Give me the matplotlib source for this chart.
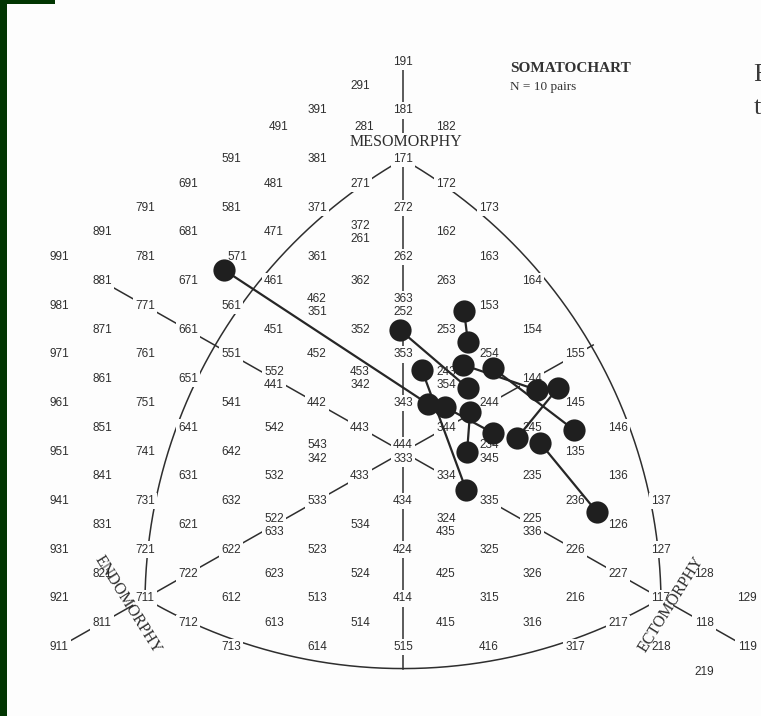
import numpy as np
import matplotlib.pyplot as plt
from matplotlib.patches import Rectangle

# =============================
# DATA
# =============================
# ratings printed on the grid (endo, meso, ecto); "a/b" = two ratings
# sharing one chart position, printed one above the other
grid_ratings = [
    "191", "291", "391", "181", "491", "281", "182",
    "591", "381", "171", "691", "481", "271", "172",
    "791", "581", "371", "272", "173",
    "891", "681", "471", "372/261", "162",
    "991", "781", "571", "361", "262", "163",
    "881", "671", "461", "362", "263", "164",
    "981", "771", "561", "462/351", "363/252", "153",
    "871", "661", "451", "352", "253", "154",
    "971", "761", "551", "452", "353", "254", "155",
    "861", "651", "552/441", "453/342", "243/354", "144",
    "961", "751", "541", "442", "343", "244", "145",
    "851", "641", "542", "433", "344", "245", "146",
    "951", "741", "642", "543/342", "444/333", "234/345", "135",
    "841", "631", "532", "443", "334", "235", "136",
    "941", "731", "632", "533", "434", "335", "236", "137",
    "831", "621", "522/633", "534", "324/435", "225/336", "126",
    "931", "721", "622", "523", "424", "325", "226", "127",
    "821", "722", "623", "524", "425", "326", "227", "128",
    "921", "711", "612", "513", "414", "315", "216", "117", "129",
    "811", "712", "613", "514", "415", "316", "217", "118",
    "911", "713", "614", "515", "416", "317", "218", "119",
    "219",
]

# subject somatopoints in chart units (X = ecto - endo, Y = 2*meso - endo - ecto)
pts_x = [-4.16, -0.07, 1.42, 1.51, 1.40, 2.09, 0.44, 1.51, 0.58, 0.98,
         1.56, 1.49, 2.09, 2.65, 3.12, 3.60, 3.98, 3.19, 1.47, 4.51]
pts_y = [7.46, 5.00, 5.78, 4.51, 3.57, 3.44, 3.36, 2.62, 1.97, 1.84,
         1.64, 0.00, 0.78, 0.57, 2.54, 2.62, 0.90, 0.37, -1.56, -2.46]

# the two members of each pair (indices into pts_x / pts_y)
pairs = [(0, 8), (1, 7), (2, 3), (4, 14), (5, 16),
         (6, 18), (9, 12), (10, 11), (15, 13), (19, 17)]

# =============================
# SETTINGS
# =============================
W, H = 761, 716
SX, SY = 43.0, 24.4      # pixels per chart unit
X0, Y0 = 403.0, 452.0    # pixel position of the 444 point
bg = "#fdfdfd"
ink = "#2e2e2e"
num_font = "Liberation Sans"
serif = "Liberation Serif"


def rating_xy(r):
    endo, meso, ecto = (int(c) for c in r)
    return ecto - endo, 2 * meso - endo - ecto


def arc(r_from, r_to, r_center, n=300):
    # circular (in print space) arc between two vertices, centred on the third
    c = np.array(rating_xy(r_center), float) * [SX, SY]
    a = np.array(rating_xy(r_from), float) * [SX, SY] - c
    b = np.array(rating_xy(r_to), float) * [SX, SY] - c
    ta, tb = np.arctan2(a[1], a[0]), np.arctan2(b[1], b[0])
    ra, rb = np.hypot(*a), np.hypot(*b)
    t = np.linspace(0, 1, n)
    ang = ta + (tb - ta) * t
    rad = ra + (rb - ra) * t
    return (c[0] + rad * np.cos(ang)) / SX, (c[1] + rad * np.sin(ang)) / SY


fig = plt.figure(figsize=(W / 100, H / 100), dpi=100, facecolor=bg)
ax = fig.add_axes([0, 0, 1, 1])
ax.set_xlim(-X0 / SX, (W - X0) / SX)
ax.set_ylim((Y0 - H) / SY, Y0 / SY)
ax.axis("off")

# =============================
# ARCS AND AXES
# =============================
lw_grid = 1.1
left_x, left_y = arc("171", "711", "117")
right_x, right_y = arc("171", "117", "711")
bot_x, bot_y = arc("711", "117", "171")
for xs, ys in [(left_x, left_y), (right_x, right_y), (bot_x, bot_y)]:
    ax.plot(xs, ys, color=ink, lw=lw_grid, zorder=1)

# vertical axis: from 191 down to the bottom arc
i_bot = np.argmin(np.abs(bot_x))
ax.plot([0, 0], [rating_xy("191")[1], bot_y[i_bot]], color=ink, lw=lw_grid, zorder=1)

# diagonals through the centre
for end in ["881", "911", "119"]:
    ex, ey = rating_xy(end)
    ax.plot([0, ex], [0, ey], color=ink, lw=lw_grid, zorder=1)

# 444 -> 155 runs on to the right arc
ang_r = np.arctan2(right_y * SY, right_x * SX)
i_r = np.argmin(np.abs(ang_r - np.arctan2(SY, SX)))
ax.plot([0, right_x[i_r] * 1.01], [0, right_y[i_r] * 1.01], color=ink, lw=lw_grid, zorder=1)

# =============================
# GRID LABELS
# =============================
# a few ratings sit off their exact spot to clear the axis name
nudge = {"281": (0.1, 0.33), "182": (0.0, 0.33), "491": (0.1, 0.33), "571": (0.15, 0.0)}
box = dict(boxstyle="square,pad=0.18", fc=bg, ec="none")
dy = 6.5 / SY
for entry in grid_ratings:
    parts = entry.split("/")
    gx, gy = rating_xy(parts[0])
    nx, ny = nudge.get(parts[0], (0, 0))
    gx, gy = gx + nx, gy + ny
    if len(parts) == 1:
        offs = [0.0]
    else:
        offs = [dy, -dy]
    for lab, off in zip(parts, offs):
        ax.text(gx, gy + off, lab, ha="center", va="center", fontsize=8.5,
                family=num_font, color=ink, bbox=box, zorder=2)

# axis names
ax.text(0.07, (Y0 - 142) / SY, "MESOMORPHY", ha="center", va="center",
        fontsize=11.5, family=serif, color=ink, zorder=3,
        bbox=dict(boxstyle="square,pad=0.05", fc=bg, ec="none"))
ax.text((128 - X0) / SX, (Y0 - 605) / SY, "ENDOMORPHY", ha="center", va="center",
        rotation=-58, fontsize=11.5, family=serif, color=ink, zorder=3)
ax.text((671 - X0) / SX, (Y0 - 604) / SY, "ECTOMORPHY", ha="center", va="center",
        rotation=58, fontsize=11.5, family=serif, color=ink, zorder=3)

# heading
ax.text((510 - X0) / SX, (Y0 - 68) / SY, "SOMATOCHART", ha="left", va="center",
        fontsize=11, fontweight="bold", family=serif, color="#333333")
ax.text((510 - X0) / SX, (Y0 - 87) / SY, "N = 10 pairs", ha="left", va="center",
        fontsize=9.5, family=serif, color="#333333")

# edge of the facing text column
ax.text((753 - X0) / SX, (Y0 - 75) / SY, "F", ha="left", va="center",
        fontsize=19, family=serif, color="#3a3a3a", clip_on=False)
ax.text((754 - X0) / SX, (Y0 - 108) / SY, "t", ha="left", va="center",
        fontsize=19, family=serif, color="#3a3a3a", clip_on=False)

# =============================
# PAIRS
# =============================
for i, j in pairs:
    ax.plot([pts_x[i], pts_x[j]], [pts_y[i], pts_y[j]], color="#262626",
            lw=1.6, solid_capstyle="round", zorder=4)
ax.plot(pts_x, pts_y, "o", ms=16, color="#1f1f1f", mec="none", zorder=5)

# scanner border
fig.patches.append(Rectangle((0, 0), 7 / W, 1, transform=fig.transFigure,
                             fc="#013501", ec="none", zorder=10))
fig.patches.append(Rectangle((0, 1 - 4 / H), 55 / W, 4 / H, transform=fig.transFigure,
                             fc="#013501", ec="none", zorder=10))

fig.savefig("out.png", dpi=100, facecolor=bg)
